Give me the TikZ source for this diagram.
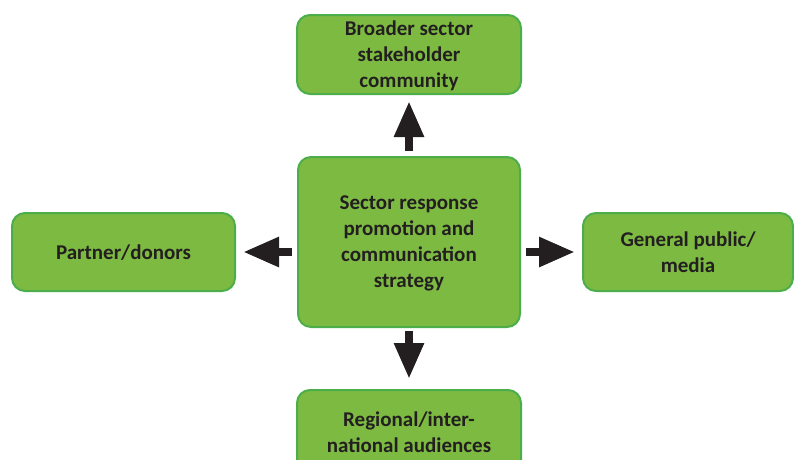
\documentclass[tikz,border=0pt]{standalone}
\usepackage{fontspec}
\setmainfont{Carlito}
\usetikzlibrary{arrows.meta}

\definecolor{boxfill}{HTML}{7DBA42}
\definecolor{boxline}{HTML}{4BAE4A}
\definecolor{ink}{HTML}{231F20}

\begin{document}
\begin{tikzpicture}[x=1pt,y=-1pt,
    box/.style={draw=boxline,line width=2pt,fill=boxfill,rounded corners=13pt,
        align=center,text=ink,font=\bfseries\fontsize{21}{26}\selectfont,
        inner sep=0pt,text depth=-2pt},
    blockarrow/.style={draw=ink,line width=8.5pt,
        -{Triangle[length=36pt,width=28pt]}}]
        \useasboundingbox (0,0) rectangle (794,459);

        \node[box,minimum width=224pt,minimum height=79pt] (stake) at (409,54.5)
            {Broader sector\\stakeholder\\community};
        \node[box,minimum width=222pt,minimum height=170pt] (strat) at (409,242)
            {Sector response\\promotion and\\communication\\strategy};
        \node[box,minimum width=223pt,minimum height=78pt] (donor) at (123.5,252)
            {Partner/donors};
        \node[box,minimum width=210pt,minimum height=78pt] (public) at (688,252)
            {General public/\\media};
        % bottom box runs off the page
        \node[box,minimum width=224pt,minimum height=84pt] (region) at (409,432)
            {Regional/inter-\\national audiences};

        \draw[blockarrow,shorten <=5pt,shorten >=6pt] (strat.north)--(stake.south);
        \draw[blockarrow,shorten <=5pt,shorten >=7pt] (strat.west |- donor.east)--(donor.east);
        \draw[blockarrow,shorten <=5pt,shorten >=7pt] (strat.east |- public.west)--(public.west);
        \draw[blockarrow,shorten <=3pt,shorten >=10pt] (strat.south)--(region.north);
\end{tikzpicture}
\end{document}
